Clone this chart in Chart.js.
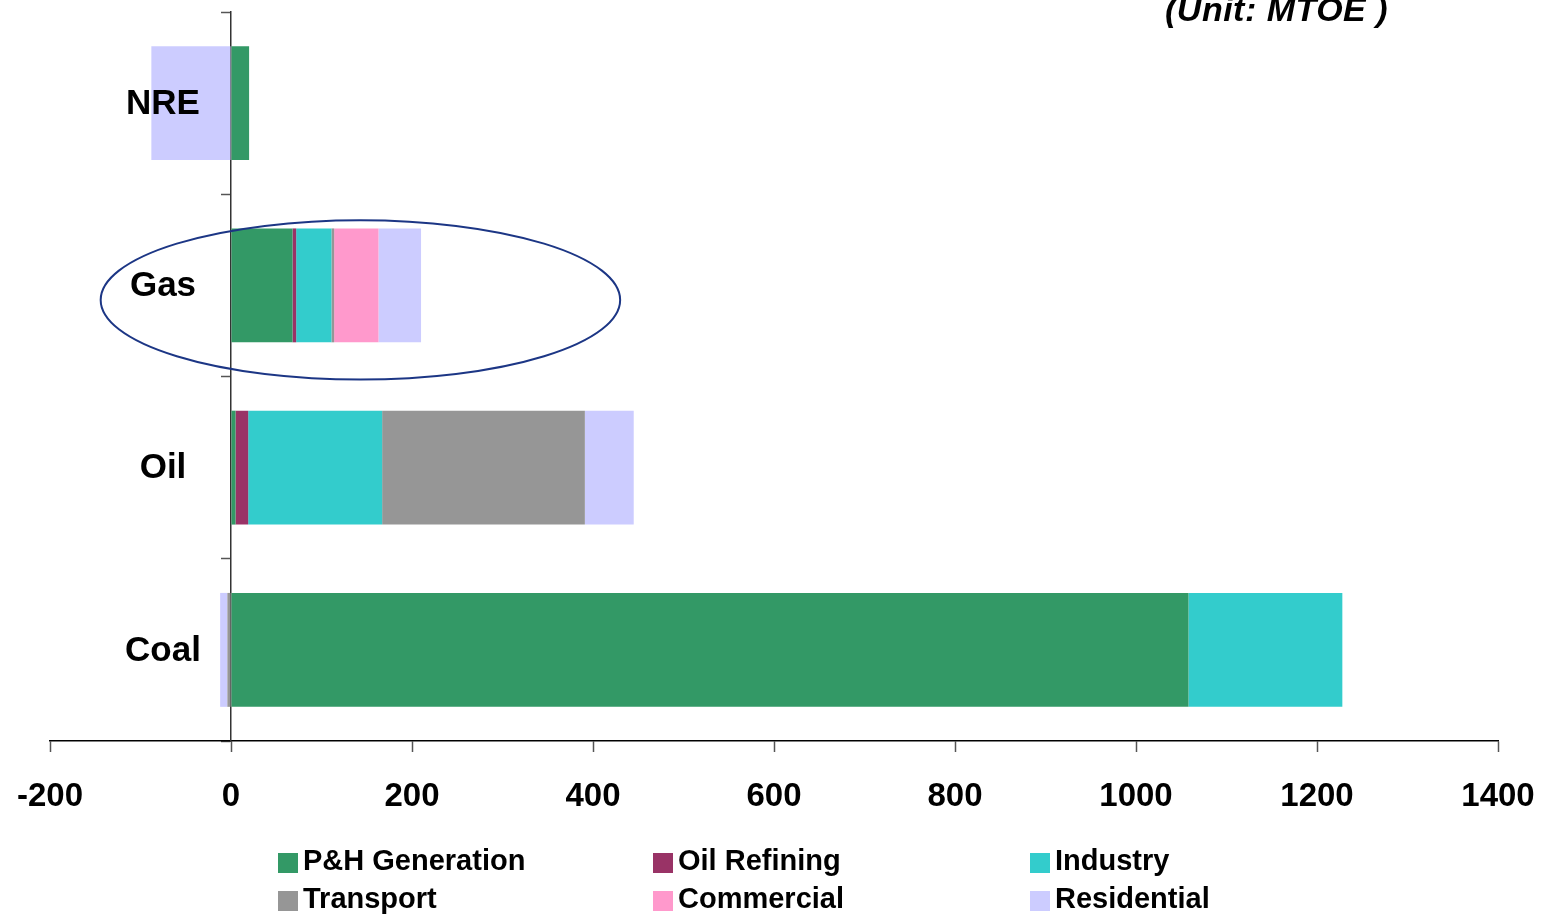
<!DOCTYPE html>
<html>
<head>
<meta charset="utf-8">
<title>Final energy consumption by fuel and sector</title>
<script src="https://cdn.jsdelivr.net/npm/chart.js@4/dist/chart.umd.min.js"></script>
<style>
  body { margin: 0; background: #fff; }
  #wrap { position: relative; width: 1547px; height: 914px; }
  #unit {
    position: absolute; left: 1165px; top: -10px;
    font: italic bold 34px "Liberation Sans", Arial, sans-serif; color: #000;
    white-space: pre; letter-spacing: 0.5px;
  }
  #legend { position: absolute; left: 278px; top: 845px; width: 1200px; }
  .item {
    position: absolute; height: 30px; white-space: nowrap;
    font: bold 29px "Liberation Sans", Arial, sans-serif; color: #000; line-height: 30px;
  }
  .item span.box { display: inline-block; width: 20px; height: 20px; margin-right: 5px; vertical-align: -3px; }
</style>
</head>
<body>
<div id="wrap">
  <canvas id="fuelChart" width="1547" height="914"></canvas>
  <div id="unit">(Unit: MTOE )</div>
  <div id="legend"></div>
</div>
<script>
var categories = ['NRE', 'Gas', 'Oil', 'Coal'];
var phGeneration = [20, 68, 5, 1058];
var oilRefining = [0, 4, 14, 0];
var industry = [0, 39, 148, 170];
var transport = [0, 3, 224, -4];
var commercial = [0, 49, 0, 0];
var residential = [-88, 47, 54, -8];
var xTicks = [-200, 0, 200, 400, 600, 800, 1000, 1200, 1400];

var series = [
    { label: 'P&H Generation', data: phGeneration, color: '#339966' },
    { label: 'Oil Refining', data: oilRefining, color: '#993366' },
    { label: 'Industry', data: industry, color: '#33CCCC' },
    { label: 'Transport', data: transport, color: '#969696' },
    { label: 'Commercial', data: commercial, color: '#FF99CC' },
    { label: 'Residential', data: residential, color: '#CCCCFF' }
];

// category names left of the zero axis (the axis sits at x = 0, not at the chart edge)
var fuelLabels = {
    id: 'fuelLabels',
    afterDatasetsDraw: function (chart) {
        var xs = chart.scales.x, ys = chart.scales.y;
        var ctx = chart.ctx;
        ctx.save();
        ctx.font = 'bold 35px "Liberation Sans", Arial';
        ctx.fillStyle = '#000';
        ctx.textAlign = 'center';
        ctx.textBaseline = 'middle';
        categories.forEach(function (c, i) {
            ctx.fillText(c, xs.getPixelForValue(0) - 68, ys.getPixelForValue(i) + 1);
        });
        ctx.restore();
    }
};

// ring drawn round the Gas bar
var gasRing = {
    id: 'gasRing',
    afterDatasetsDraw: function (chart) {
        var xs = chart.scales.x, ys = chart.scales.y;
        var band = ys.getPixelForValue(1) - ys.getPixelForValue(0);
        var cx = xs.getPixelForValue(143);
        var rx = xs.getPixelForValue(143 + 287) - cx;
        var cy = ys.getPixelForValue(1) + band * 0.08;
        var ry = band * 0.437;
        var ctx = chart.ctx;
        ctx.save();
        ctx.beginPath();
        ctx.ellipse(cx, cy, rx, ry, 0, 0, Math.PI * 2);
        ctx.strokeStyle = '#1c3685';
        ctx.lineWidth = 2;
        ctx.stroke();
        ctx.restore();
    }
};

var ctx = document.getElementById('fuelChart').getContext('2d');
var fuelChart = new Chart(ctx, {
    type: 'bar',
    data: {
        labels: categories,
        datasets: series.map(function (s) {
            return {
                label: s.label,
                data: s.data,
                backgroundColor: s.color,
                borderWidth: 0,
                categoryPercentage: 1,
                barPercentage: 0.625
            };
        })
    },
    options: {
        indexAxis: 'y',
        responsive: false,
        animation: false,
        layout: { padding: { left: 50, right: 49, top: 12, bottom: 0 } },
        plugins: {
            legend: { display: false },
            tooltip: { enabled: false }
        },
        scales: {
            x: {
                stacked: true,
                min: -200,
                max: 1400,
                afterBuildTicks: function (s) {
                    s.ticks = xTicks.map(function (v) { return { value: v }; });
                },
                afterFit: function (s) {
                    s.height = 173;
                    s.paddingLeft = 0;
                    s.paddingRight = 0;
                },
                grid: { drawOnChartArea: false, tickLength: 11, color: '#555', tickWidth: 1.5 },
                border: { color: '#000', width: 1.5 },
                ticks: {
                    padding: 25,
                    color: '#000',
                    callback: function (v) { return String(v); },
                    font: { family: '"Liberation Sans", Arial', size: 33, weight: 'bold' }
                }
            },
            y: {
                stacked: true,
                position: { x: 0 },
                afterFit: function (s) {
                    s.paddingTop = 0;
                    s.paddingBottom = 0;
                },
                grid: { drawOnChartArea: false, tickLength: 9, color: '#555', tickWidth: 1.5 },
                border: { color: '#333', width: 1.5 },
                ticks: { display: false }
            }
        }
    },
    plugins: [fuelLabels, gasRing]
});

// legend: three columns, two rows
var legendBox = document.getElementById('legend');
var colX = [0, 375, 752];
series.forEach(function (s, i) {
    var item = document.createElement('div');
    item.className = 'item';
    item.style.left = colX[i % 3] + 'px';
    item.style.top = (Math.floor(i / 3) * 38) + 'px';
    item.innerHTML = '<span class="box" style="background:' + s.color + '"></span>' + s.label;
    legendBox.appendChild(item);
});
</script>
</body>
</html>
